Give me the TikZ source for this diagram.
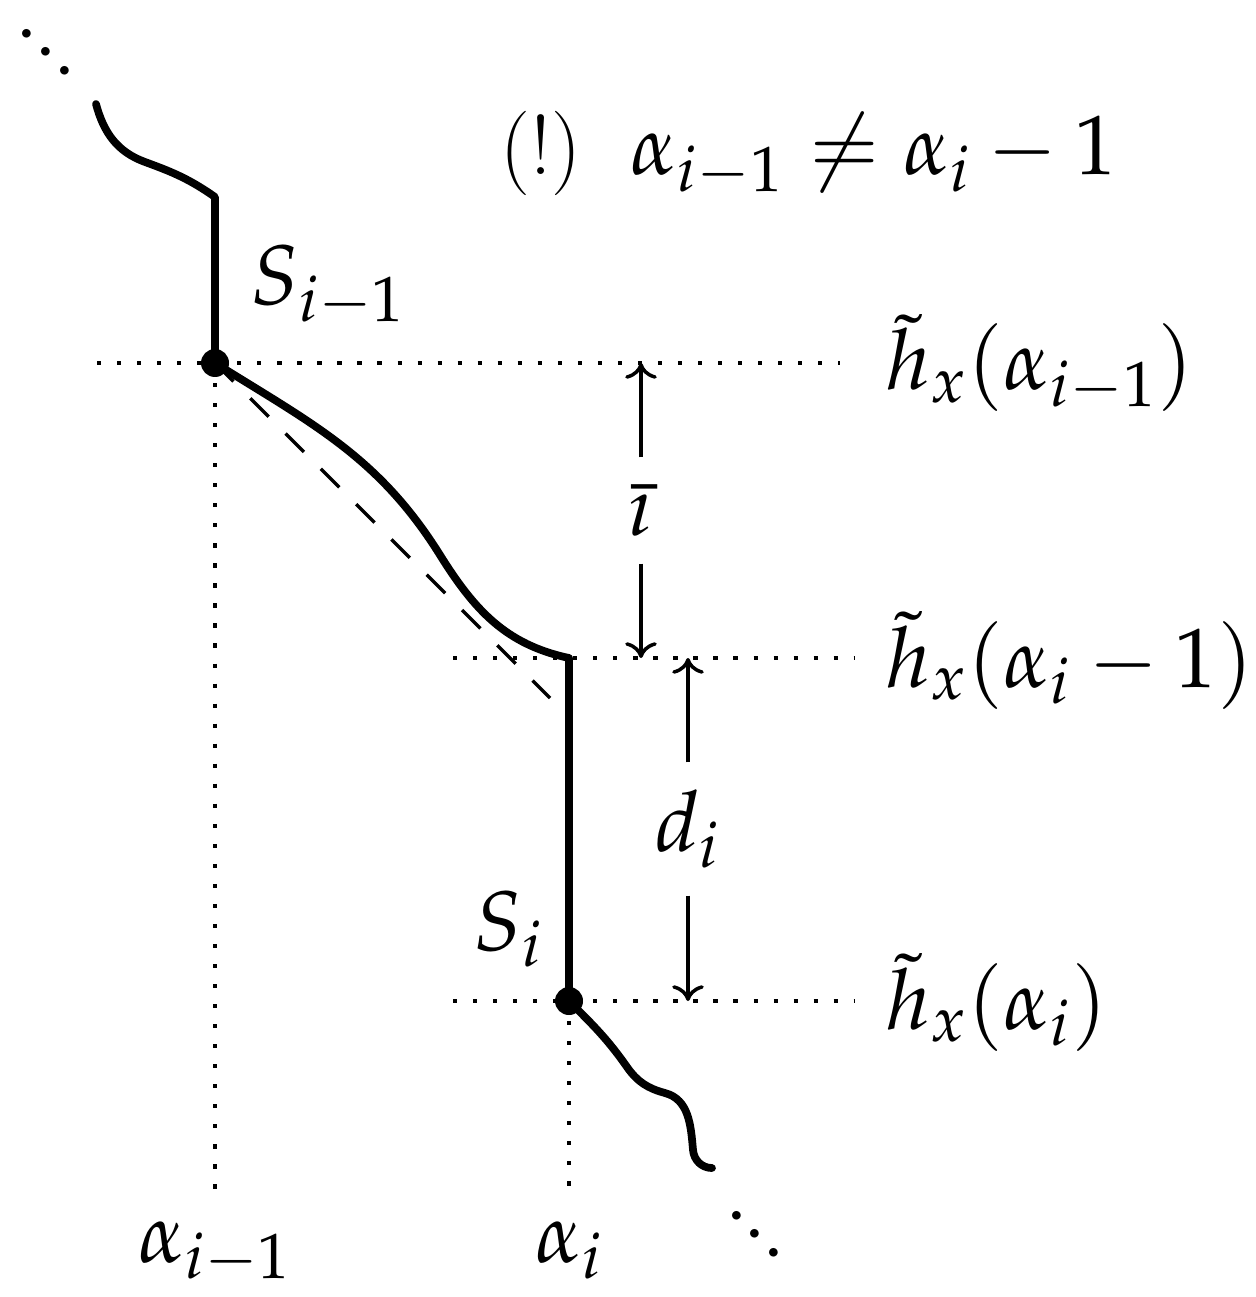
\documentclass[tikz,border=0pt]{standalone}
\usepackage{mathpazo}
\usetikzlibrary{arrows.meta}

\tikzset{
    path/.style={line width=2.2pt, line cap=round, line join=round},
    guide/.style={line width=1.2pt, dash pattern=on 1.2pt off 4.5pt},
    chord/.style={line width=1pt, dash pattern=on 7.4pt off 6.8pt},
    gap/.style={line width=1pt, -{To[length=4.5pt,width=9pt]}},
    dot/.style={circle, fill, inner sep=0pt, minimum size=0.28cm},
    lbl/.style={inner sep=0pt, font=\fontsize{24}{28}\selectfont},
    more/.style={inner sep=0pt, rotate=-45, font=\fontsize{30}{34}\selectfont}
}

\begin{document}
\begin{tikzpicture}
        \useasboundingbox (0, 0) rectangle (12.55, -12.97);

        \node[more] (dotsa) at (0.46, -0.52) {.\kern0pt.\kern0pt.};
        \node[more] (dotsb) at (7.55, -12.34) {.\kern0pt.\kern0pt.};
        \node[lbl, anchor=base west] (warn) at (5.00, -1.75) {(!)\hspace{14pt}$\alpha_{i-1} \neq \alpha_i - 1$};

        \draw[guide] (0.97, -3.63) -- (8.40, -3.63);
        \draw[guide] (4.53, -6.58) -- (8.55, -6.58);
        \draw[guide] (4.53, -10.01) -- (8.55, -10.01);
        \draw[guide] (2.15, -3.63) -- (2.15, -11.92);
        \draw[guide] (5.69, -10.01) -- (5.69, -11.92);

        \node[dot] (sa) at (2.15, -3.63) {};
        \node[dot] (sb) at (5.69, -10.01) {};
        \coordinate (ca) at (2.15, -1.97);
        \coordinate (cb) at (5.69, -6.58);

        \draw[chord] (sa.center) -- (5.50, -6.98);
        \draw[path] (0.96, -1.04) to[out=-75, in=160] (1.45, -1.62) to[out=-20, in=145] (ca) -- (sa.center);
        \draw[path] (sa.center) to[out=-32, in=122] (4.40, -5.55) to[out=-58, in=168] (cb) -- (sb.center);
        \draw[path] (sb.center) to[out=-45, in=125] (6.27, -10.67) to[out=-55, in=165] (6.65, -10.93)
            to[out=-15, in=95] (6.93, -11.50) to[out=-85, in=180] (7.12, -11.68);

        \node[lbl, anchor=base west] (la) at (2.50, -3.05) {$S_{i-1}$};
        \node[lbl, anchor=base west] (lb) at (4.73, -9.50) {$S_i$};
        \node[lbl, anchor=base] (xa) at (2.15, -12.62) {$\alpha_{i-1}$};
        \node[lbl, anchor=base] (xb) at (5.69, -12.62) {$\alpha_i$};

        \node[lbl, anchor=base west] (ha) at (8.85, -3.90) {$\tilde{h}_x(\alpha_{i-1})$};
        \node[lbl, anchor=base west] (hb) at (8.85, -6.87) {$\tilde{h}_x(\alpha_i - 1)$};
        \node[lbl, anchor=base west] (hc) at (8.85, -10.29) {$\tilde{h}_x(\alpha_i)$};

        \node[lbl, minimum height=1.05cm] (ibar) at (6.41, -5.105) {$\bar{\imath}$};
        \node[lbl, minimum height=1.32cm] (di) at (6.88, -8.29) {$d_i$};
        \coordinate (ibtop) at (6.41, -3.63);
        \coordinate (ibbot) at (6.41, -6.58);
        \coordinate (dtop) at (6.88, -6.58);
        \coordinate (dbot) at (6.88, -10.01);
        \draw[gap] (ibar) -- (ibtop);
        \draw[gap] (ibar) -- (ibbot);
        \draw[gap] (di) -- (dtop);
        \draw[gap] (di) -- (dbot);
    \end{tikzpicture}
\end{document}
